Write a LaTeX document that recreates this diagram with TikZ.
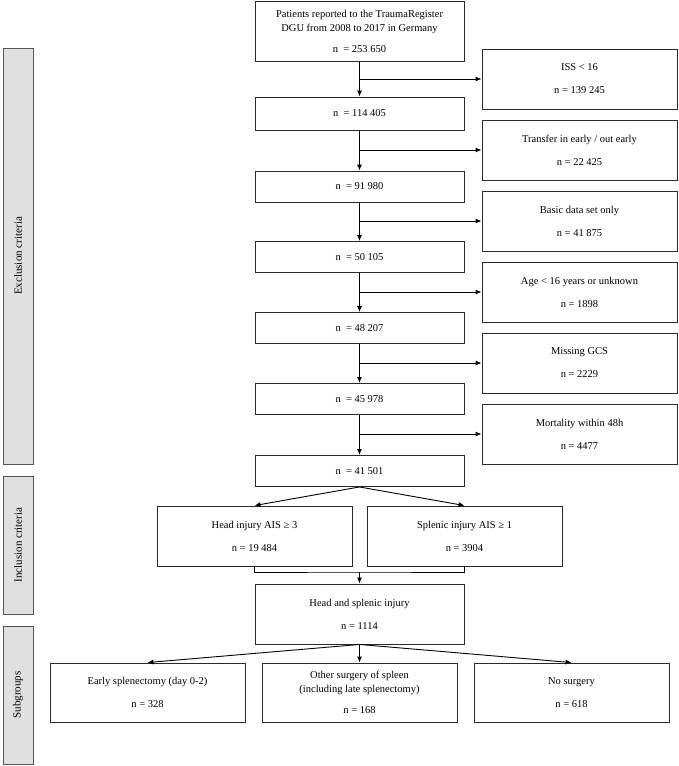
\documentclass[tikz,border=0pt]{standalone}
\usepackage{fontspec}
\setmainfont{Liberation Serif}
\usepackage{tikz}
\usetikzlibrary{arrows, arrows.meta}
\definecolor{barfill}{HTML}{E0E0E0}
\definecolor{bardraw}{HTML}{555555}
\definecolor{boxdraw}{HTML}{2A2A2A}

\begin{document}
\begin{tikzpicture}[x=1pt, y=-1pt,
    box/.style={draw=boxdraw, line width=0.9pt, inner sep=0pt, align=center,
      minimum width=209pt, minimum height=31pt, font=\fontsize{10.5}{14}\selectfont},
    outbox/.style={box, minimum width=195pt, minimum height=60pt},
    sidebar/.style={draw=bardraw, fill=barfill, line width=0.9pt, inner sep=0pt,
      minimum width=30pt, rotate=90, font=\fontsize{11}{13}\selectfont},
    flow/.style={line width=0.9pt, -{Latex[length=6pt, width=5pt]}}]
              \useasboundingbox (0,0) rectangle (678,766);

              % Side bars
              \node[sidebar, minimum width=416pt, minimum height=30pt] (excl) at (18,256) {Exclusion criteria};
              \node[sidebar, minimum width=138pt, minimum height=30pt] (incl) at (18,545) {Inclusion criteria};
              \node[sidebar, minimum width=138pt, minimum height=30pt] (subg) at (18,695) {Subgroups};

              % Main column
              \node[box, minimum height=60pt] (start) at (359.5,31)
                {Patients reported to the TraumaRegister\\DGU from 2008 to 2017 in Germany\\[7pt]n\ \ = 253 650};
              \node[box, minimum height=33pt] (n1) at (359.5,113.5) {n\ \ = 114 405};
              \node[box] (n2) at (359.5,186.5) {n\ \ = 91 980};
              \node[box] (n3) at (359.5,257) {n\ \ = 50 105};
              \node[box] (n4) at (359.5,328) {n\ \ = 48 207};
              \node[box] (n5) at (359.5,399) {n\ \ = 45 978};
              \node[box] (n6) at (359.5,471) {n\ \ = 41 501};

              % Excluded patients
              \node[outbox] (e1) at (579.5,79) {ISS < 16\\[9pt]n = 139 245};
              \node[outbox] (e2) at (579.5,150) {Transfer in early / out early\\[9pt]n = 22 425};
              \node[outbox] (e3) at (579.5,221) {Basic data set only\\[9pt]n = 41 875};
              \node[outbox] (e4) at (579.5,292) {Age < 16 years or unknown\\[9pt]n = 1898};
              \node[outbox] (e5) at (579.5,363) {Missing GCS\\[9pt]n = 2229};
              \node[outbox] (e6) at (579.5,434) {Mortality within 48h\\[9pt]n = 4477};

              % Vertical arrows
              \draw[flow] (start) -- (n1);
              \draw[flow] (n1) -- (n2);
              \draw[flow] (n2) -- (n3);
              \draw[flow] (n3) -- (n4);
              \draw[flow] (n4) -- (n5);
              \draw[flow] (n5) -- (n6);

              % Branches to the right
              \draw[flow] (start.south |- e1.west) -- (e1.west);
              \draw[flow] (n1.south |- e2.west) -- (e2.west);
              \draw[flow] (n2.south |- e3.west) -- (e3.west);
              \draw[flow] (n3.south |- e4.west) -- (e4.west);
              \draw[flow] (n4.south |- e5.west) -- (e5.west);
              \draw[flow] (n5.south |- e6.west) -- (e6.west);

              % Inclusion criteria
              \node[outbox] (head) at (254.5,536) {Head injury AIS ≥ 3\\[9pt]n = 19 484};
              \node[outbox] (splen) at (464.5,536) {Splenic injury AIS ≥ 1\\[9pt]n = 3904};
              \node[box, minimum height=60pt] (both) at (359.5,614) {Head and splenic injury\\[9pt]n = 1114};
              \coordinate (join) at (359.5,572);

              \draw[flow] (n6.south) -- (head.north);
              \draw[flow] (n6.south) -- (splen.north);
              \draw[line width=0.9pt] (head.south) |- (join) -| (splen.south);
              \draw[flow] (join) -- (both.north);

              % Subgroups
              \node[outbox, minimum height=59pt] (early) at (147.5,692.5) {Early splenectomy (day 0-2)\\[9pt]n = 328};
              \node[outbox, minimum height=59pt] (other) at (359.5,692.5) {Other surgery of spleen\\(including late splenectomy)\\[7pt]n = 168};
              \node[outbox, minimum height=59pt] (nosurg) at (571.5,692.5) {No surgery\\[9pt]n = 618};

              \draw[flow] (both.south) -- (early.north);
              \draw[flow] (both.south) -- (other.north);
              \draw[flow] (both.south) -- (nosurg.north);
            \end{tikzpicture}
\end{document}
